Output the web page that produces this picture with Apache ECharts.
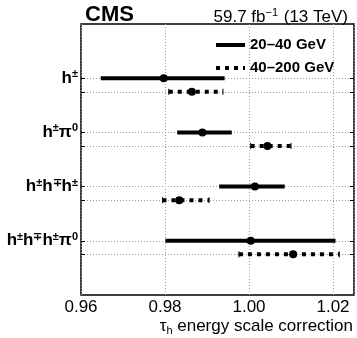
<!DOCTYPE html>
<html>
<head>
<meta charset="utf-8">
<script src="https://cdn.jsdelivr.net/npm/echarts@6/dist/echarts.min.js"></script>
<style>
  html, body { margin: 0; padding: 0; background: #fff; }
  #chart { width: 357px; height: 338px; }
</style>
</head>
<body>
<div id="chart"></div>
<script>
  // decay modes, top to bottom
  var categories = ['h{s|±}', 'h{s|±}π{s|0}', 'h{s|±}h{s|∓}h{s|±}', 'h{s|±}h{s|∓}h{s|±}π{s|0}'];
  // row slot on the y axis (0..20) for each mode and pT bin
  var rows20 = [16, 12, 8, 4];
  var rows40 = [15, 11, 7, 3];
  // 20-40 GeV
  var central20 = [0.9797, 0.9889, 1.0014, 1.0004];
  var lo20 = [0.9647, 0.9829, 0.9929, 0.9801];
  var hi20 = [0.9942, 0.9959, 1.0085, 1.0206];
  // 40-200 GeV
  var central40 = [0.9864, 1.0044, 0.9834, 1.0105];
  var lo40 = [0.9809, 1.0004, 0.9794, 0.9976];
  var hi40 = [0.9938, 1.0100, 0.9905, 1.0215];

  var slots = [];
  for (var i = 0; i <= 20; i++) slots.push(String(i));

  var chart = echarts.init(document.getElementById('chart'));
  var font = 'Liberation Sans, Arial, Helvetica, sans-serif';

  function build(lo, hi, c, rows) {
    var out = [];
    for (var i = 0; i < c.length; i++) out.push([lo[i], hi[i], c[i], rows[i]]);
    return out;
  }

  function errorBar(dotted) {
    return function (params, api) {
      var y = api.value(3);
      var a = api.coord([api.value(0), y]);
      var b = api.coord([api.value(1), y]);
      var c = api.coord([api.value(2), y]);
      var kids = [
        { type: 'line', shape: { x1: a[0], y1: a[1], x2: b[0], y2: b[1] },
          style: { stroke: '#000', lineWidth: 4, lineDash: dotted ? [4, 5] : null, lineCap: 'butt' } },
        { type: 'circle', shape: { cx: c[0], cy: c[1], r: 4 }, style: { fill: '#000' } }
      ];
      if (dotted) {
        kids.push({ type: 'line', shape: { x1: a[0], y1: a[1] - 3, x2: a[0], y2: a[1] + 3 }, style: { stroke: '#000', lineWidth: 1 } });
        kids.push({ type: 'line', shape: { x1: b[0], y1: b[1] - 3, x2: b[0], y2: b[1] + 3 }, style: { stroke: '#000', lineWidth: 1 } });
      }
      return { type: 'group', children: kids };
    };
  }

  var allRows = rows20.concat(rows40);
  var labelMap = {};
  rows20.forEach(function (r, i) { labelMap[r] = categories[i]; });

  var xBase = { type: 'value', min: 0.96, max: 1.025, gridIndex: 0 };

  var option = {
    animation: false,
    backgroundColor: '#fff',
    title: [
      { text: 'CMS', left: 80, top: -1, textStyle: { fontFamily: font, fontSize: 22, fontWeight: 'bold', color: '#000' } },
      { text: '59.7 fb{s|−1} (13 TeV)', right: 4, top: 2,
        textStyle: { fontFamily: font, fontSize: 17, fontWeight: 'normal', color: '#000',
          rich: { s: { fontFamily: font, fontSize: 11, padding: [0, 1, 9, 0], color: '#000' } } } }
    ],
    grid: { left: 81, right: 3, top: 24, bottom: 43, show: true, borderColor: '#000', borderWidth: 1.5, backgroundColor: 'transparent' },
    xAxis: [
      Object.assign({}, xBase, {
        position: 'bottom', interval: 0.02,
        name: 'τ{s|h} energy scale correction', nameLocation: 'end', nameGap: 0,
        nameTextStyle: { fontFamily: font, fontSize: 17, color: '#000', align: 'right', verticalAlign: 'top', padding: [22, 1, 0, 0],
          rich: { s: { fontFamily: font, fontSize: 11, padding: [8, 0, 0, 0], color: '#000' } } },
        axisLine: { show: false },
        axisTick: { inside: true, length: 8, lineStyle: { color: '#000', width: 1 } },
        axisLabel: { fontFamily: font, fontSize: 17, color: '#000', margin: 4, showMaxLabel: false,
          formatter: function (v) { return v.toFixed(2); } },
        splitLine: { show: true, lineStyle: { color: '#999', type: [1, 2], width: 1 } }
      }),
      Object.assign({}, xBase, {
        position: 'bottom', interval: 0.005,
        axisLine: { show: false }, axisLabel: { show: false }, splitLine: { show: false },
        axisTick: { inside: true, length: 4, lineStyle: { color: '#000', width: 1 } }
      }),
      Object.assign({}, xBase, {
        position: 'top', interval: 0.02,
        axisLine: { show: false }, axisLabel: { show: false }, splitLine: { show: false },
        axisTick: { inside: true, length: 8, lineStyle: { color: '#000', width: 1 } }
      }),
      Object.assign({}, xBase, {
        position: 'top', interval: 0.005,
        axisLine: { show: false }, axisLabel: { show: false }, splitLine: { show: false },
        axisTick: { inside: true, length: 4, lineStyle: { color: '#000', width: 1 } }
      })
    ],
    yAxis: [
      {
        type: 'category', data: slots, boundaryGap: false, position: 'left',
        axisLine: { show: false },
        axisTick: { inside: true, length: 4, interval: function (i) { return allRows.indexOf(i) >= 0; }, lineStyle: { color: '#000' } },
        axisLabel: {
          interval: function (i) { return labelMap[i] !== undefined; },
          formatter: function (v, i) { return labelMap[i] || ''; },
          fontFamily: font, fontSize: 17, fontWeight: 'bold', color: '#000', margin: 3,
          rich: { s: { fontFamily: font, fontSize: 11, fontWeight: 'bold', color: '#000', padding: [0, 0, 8, 0] } }
        },
        splitLine: { show: true, interval: function (i) { return allRows.indexOf(i) >= 0; }, lineStyle: { color: '#999', type: [1, 2], width: 1 } }
      },
      {
        type: 'category', data: slots, boundaryGap: false, position: 'right',
        axisLine: { show: false }, axisLabel: { show: false }, splitLine: { show: false },
        axisTick: { inside: true, length: 4, interval: function (i) { return allRows.indexOf(i) >= 0; }, lineStyle: { color: '#000' } }
      }
    ],
    graphic: [
      { type: 'line', shape: { x1: 216, y1: 45, x2: 245, y2: 45 }, style: { stroke: '#000', lineWidth: 4 } },
      { type: 'line', shape: { x1: 216, y1: 68, x2: 245, y2: 68 }, style: { stroke: '#000', lineWidth: 4, lineDash: [4, 5] } },
      { type: 'text', left: 250, top: 37, style: { text: '20–40 GeV', font: 'bold 15px ' + font, fill: '#000' } },
      { type: 'text', left: 250, top: 60, style: { text: '40–200 GeV', font: 'bold 15px ' + font, fill: '#000' } }
    ],
    series: [
      { type: 'custom', name: '20–40 GeV', xAxisIndex: 0, yAxisIndex: 0, renderItem: errorBar(false),
        encode: { x: [0, 1, 2], y: 3 }, data: build(lo20, hi20, central20, rows20), z: 10 },
      { type: 'custom', name: '40–200 GeV', xAxisIndex: 0, yAxisIndex: 0, renderItem: errorBar(true),
        encode: { x: [0, 1, 2], y: 3 }, data: build(lo40, hi40, central40, rows40), z: 10 }
    ]
  };
  chart.setOption(option);
</script>
</body>
</html>
